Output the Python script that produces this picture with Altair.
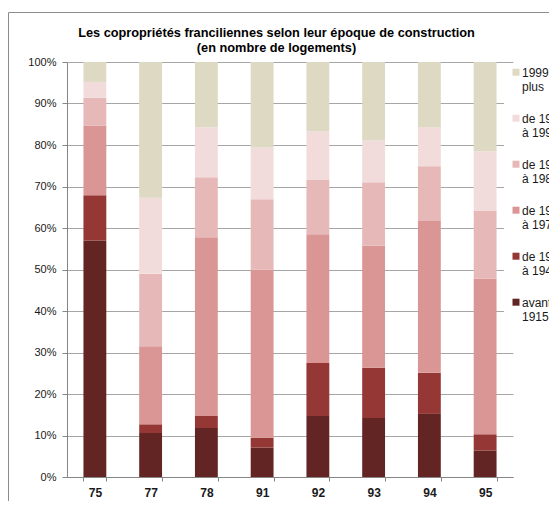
import altair as alt
import pandas as pd

departements = ["75", "77", "78", "91", "92", "93", "94", "95"]
periodes = ["avant 1915", "de 1915 à 1948", "de 1949 à 1974",
            "de 1975 à 1989", "de 1990 à 1998", "1999 et plus"]
avant_1915 = [57.0, 10.6, 11.8, 7.1, 14.7, 14.2, 15.2, 6.4]
de_1915_1948 = [10.9, 2.1, 2.9, 2.4, 12.8, 12.1, 9.9, 3.9]
de_1949_1974 = [16.8, 18.8, 43.1, 40.5, 31.0, 29.4, 36.6, 37.5]
de_1975_1989 = [6.7, 17.5, 14.4, 16.9, 13.2, 15.3, 13.2, 16.3]
de_1990_1998 = [3.8, 18.3, 12.1, 12.5, 11.6, 10.1, 9.4, 14.4]
depuis_1999 = [4.8, 32.7, 15.7, 20.6, 16.7, 18.9, 15.7, 21.5]
couleurs = ["#632523", "#953735", "#D99694", "#E6B9B8", "#F2DCDB", "#DDD9C3"]
lignes_legende = [["avant", "1915"], ["de 1915", "à 1948"], ["de 1949", "à 1974"],
                  ["de 1975", "à 1989"], ["de 1990", "à 1998"], ["1999 et", "plus"]]
titre = ["Les copropriétés franciliennes selon leur époque de construction",
         "(en nombre de logements)"]
y_ticks = list(range(0, 101, 10))

series = [avant_1915, de_1915_1948, de_1949_1974, de_1975_1989, de_1990_1998, depuis_1999]
rows = []
for rang, (nom, vals) in enumerate(zip(periodes, series)):
    for dep, v in zip(departements, vals):
        rows.append({"dep": dep, "periode": nom, "valeur": v, "rang": rang})
df = pd.DataFrame(rows)

label_map = "{" + ", ".join(
    "'%s': [%s]" % (p, ", ".join("'%s'" % s for s in l)) for p, l in zip(periodes, lignes_legende)
) + "}"

FONT = "Liberation Sans"

bars = alt.Chart(df).mark_bar().encode(
    x=alt.X("dep:N", sort=departements,
            scale=alt.Scale(paddingInner=0.59, paddingOuter=0.295),
            axis=alt.Axis(title=None, labelAngle=0, labelFontWeight="bold", labelFontSize=12,
                          labelFont=FONT, labelColor="#1a1a1a", tickBand="extent",
                          tickSize=4, labelPadding=6, domainColor="#868686",
                          tickColor="#868686", grid=False)),
    y=alt.Y("valeur:Q", stack="zero", scale=alt.Scale(domain=[0, 100], nice=False),
            axis=alt.Axis(title=None, values=y_ticks, labelExpr="datum.value + '%'",
                          labelFontSize=11, labelFont=FONT, labelColor="#1a1a1a",
                          tickSize=5, labelPadding=6, domainColor="#868686",
                          tickColor="#868686", gridColor="#a6a6a6")),
    color=alt.Color("periode:N",
                    scale=alt.Scale(domain=periodes[::-1], range=couleurs[::-1]),
                    legend=alt.Legend(title=None, orient="none", legendX=437, legendY=3,
                                      fillColor="white", padding=6,
                                      labelExpr=label_map + "[datum.label]",
                                      labelFont=FONT, labelFontSize=12, labelColor="#1a1a1a",
                                      labelBaseline="alphabetic", labelOffset=0,
                                      symbolType="M-1,-2.37H1V-0.37H-1Z", symbolSize=49,
                                      symbolStrokeWidth=0, rowPadding=20, labelLimit=200)),
    order=alt.Order("rang:Q", sort="ascending"),
)

frame_df = pd.DataFrame({"k": [0]})
left_line = alt.Chart(frame_df).mark_rule(color="#8c8c8c", strokeWidth=1).encode(
    x=alt.value(-58.5), y=alt.value(-49.5), y2=alt.value(460))
top_line = alt.Chart(frame_df).mark_rule(color="#8c8c8c", strokeWidth=1).encode(
    x=alt.value(-58.5), x2=alt.value(500), y=alt.value(-49.5))

chart = alt.layer(left_line, top_line, bars).properties(
    width=446, height=415,
    autosize=alt.AutoSizeParams(type="none"),
    padding={"left": 59, "top": 54, "right": 36, "bottom": 24},
    title=alt.TitleParams(titre, fontSize=12.75, fontWeight="bold", font=FONT, color="black",
                          anchor="middle", frame="group", baseline="alphabetic",
                          dx=-13.5, dy=53, offset=0, lineHeight=15),
).configure_view(stroke=None)

chart.save("out.html", embed_options={"renderer": "svg", "actions": False})
